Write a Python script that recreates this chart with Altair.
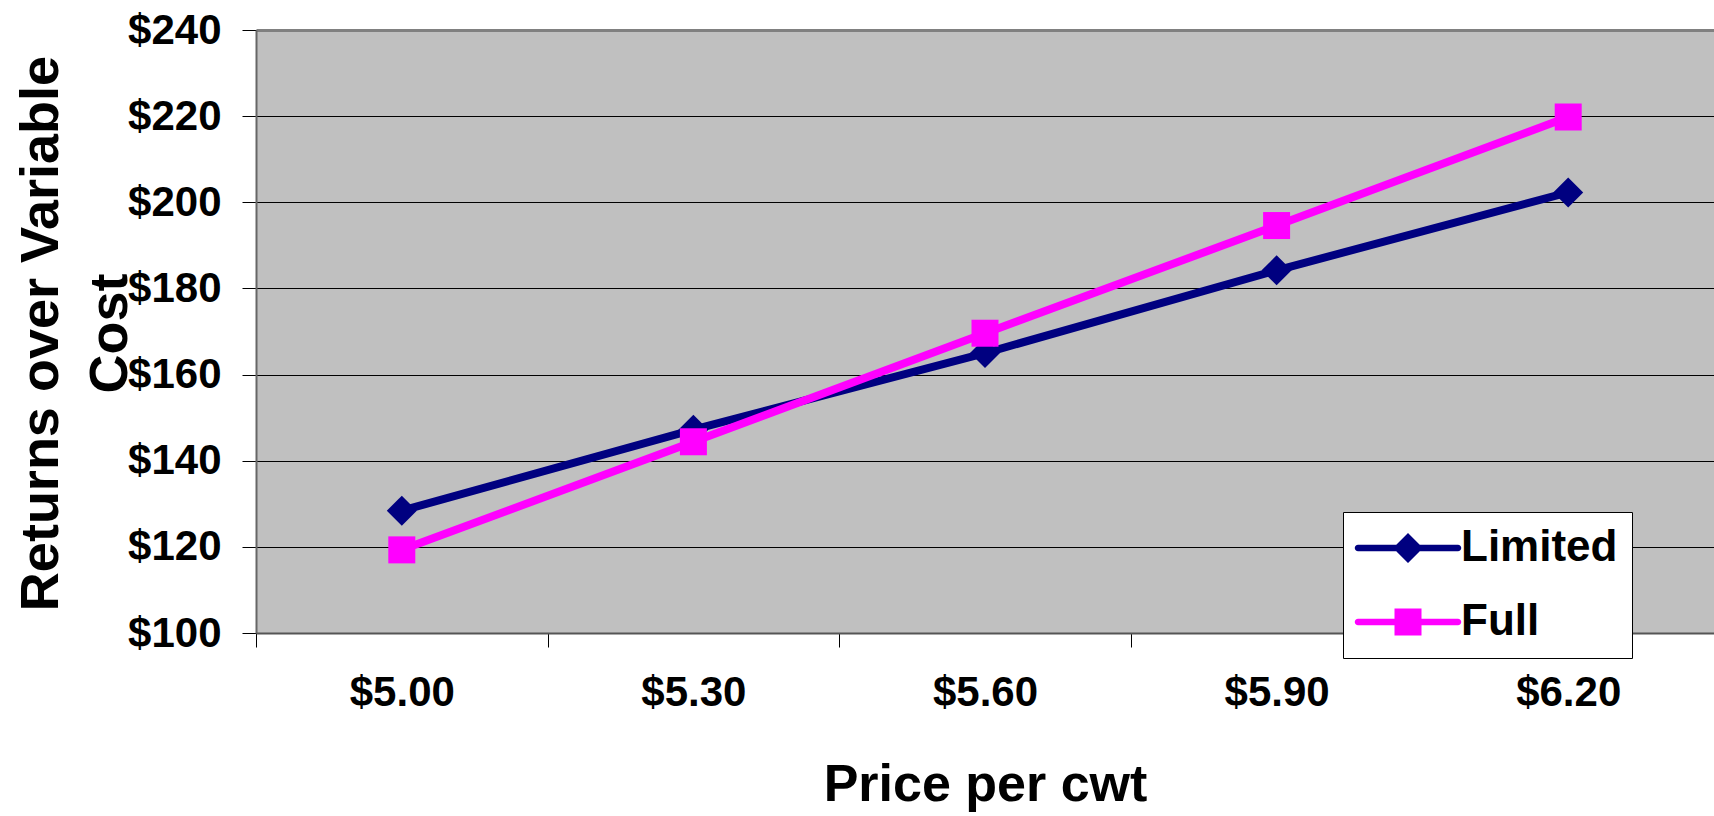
import altair as alt
import pandas as pd

prices = ["$5.00", "$5.30", "$5.60", "$5.90", "$6.20"]
series_names = ["Limited", "Full"]
limited = [128.4, 147.2, 165.0, 184.2, 202.3]
full = [119.3, 144.4, 169.6, 194.6, 219.8]
colors = ["#000080", "#FF00FF"]

rows = []
for i, p in enumerate(prices):
    rows.append({"price": p, "series": "Limited", "lg": "Limited", "value": limited[i], "order": i})
for i, p in enumerate(prices):
    rows.append({"price": p, "series": "Full", "lg": "Full", "value": full[i], "order": i})
df = pd.DataFrame(rows)

FONT = "Liberation Sans"

line_path = "M-3.33,-0.22H3.33A0.22,0.22 0 0 1 3.33,0.22H-3.33A0.22,0.22 0 0 1 -3.33,-0.22Z"
diamond_sym = line_path + " M-1,0L0,-1L1,0L0,1Z"
square_sym = line_path + " M-0.9,-0.9H0.9V0.9H-0.9Z"

x_enc = alt.X(
    "price:N",
    sort=prices,
    scale=alt.Scale(type="band", paddingInner=0, paddingOuter=0),
    axis=alt.Axis(
        title="Price per cwt",
        titleFont=FONT, titleFontSize=52, titleFontWeight="bold", titleColor="black",
        titleBaseline="alphabetic", titleY=167,
        labelFont=FONT, labelFontSize=42, labelFontWeight="bold", labelColor="black",
        labelPadding=25, labelAngle=0,
        tickBand="extent", tickSize=14, tickColor="#000000", tickWidth=1,
        domainColor="#555555", domainWidth=2,
        grid=False,
    ),
)

y_enc = alt.Y(
    "value:Q",
    scale=alt.Scale(domain=[100, 240], nice=False, zero=False),
    axis=alt.Axis(
        values=[100, 120, 140, 160, 180, 200, 220, 240],
        labelExpr="'$' + datum.value",
        title=["Returns over Variable", "Cost"],
        titleFont=FONT, titleFontSize=54, titleFontWeight="bold", titleColor="black",
        titleAngle=270, titleBaseline="alphabetic", titleAlign="center",
        titleX=-199, titleY=303, titleLineHeight=69,
        labelFont=FONT, labelFontSize=42, labelFontWeight="bold", labelColor="black",
        labelPadding=21,
        tickSize=14, tickColor="#000000", tickWidth=1,
        domainColor="#666666", domainWidth=2,
        grid=True,
        gridColor=alt.condition("datum.value == 240", alt.value("#808080"), alt.value("#000000")),
        gridWidth=alt.condition("datum.value == 240", alt.value(3), alt.value(1)),
    ),
)

base = alt.Chart(df)

lines = base.mark_line(strokeWidth=8).encode(
    x=x_enc, y=y_enc,
    color=alt.Color("series:N", scale=alt.Scale(domain=series_names, range=colors), legend=None),
    detail="series:N", order="order:Q",
)

points = base.mark_point(filled=True, opacity=1, strokeWidth=0).encode(
    x=x_enc,
    y=y_enc,
    color=alt.Color("series:N", scale=alt.Scale(domain=series_names, range=colors), legend=None),
    shape=alt.Shape("series:N", scale=alt.Scale(domain=series_names, range=["diamond", "square"]), legend=None),
    size=alt.Size("series:N", scale=alt.Scale(domain=series_names, range=[900, 729]), legend=None),
)

legend_props = dict(
    title=None, orient="none", legendX=1087, legendY=482,
    fillColor="white", strokeColor="black", padding=14,
    symbolSize=900, symbolOffset=29, labelOffset=31, rowPadding=30,
    symbolOpacity=1, symbolStrokeWidth=0,
    labelFont=FONT, labelFontSize=44, labelFontWeight="bold", labelColor="black",
    labelBaseline="middle",
)

legend_layer = base.transform_filter("datum.order < 0").mark_point(filled=True, strokeWidth=0).encode(
    color=alt.Color("lg:N", scale=alt.Scale(domain=series_names, range=colors), legend=alt.Legend(**legend_props)),
    shape=alt.Shape("lg:N", scale=alt.Scale(domain=series_names, range=[diamond_sym, square_sym]), legend=alt.Legend(**legend_props)),
)

chart = (
    alt.layer(lines, points, legend_layer)
    .resolve_scale(color="independent", shape="independent")
    .properties(
        width=1458, height=603,
        autosize=alt.AutoSizeParams(type="none"),
        padding={"left": 256, "top": 30, "right": 0, "bottom": 183},
        background="white",
        view=alt.ViewBackground(fill="#C0C0C0", stroke="transparent"),
    )
    .configure_view(fill="#C0C0C0", stroke="transparent")
)

chart.save("out.html", embed_options={"renderer": "svg", "actions": False})
